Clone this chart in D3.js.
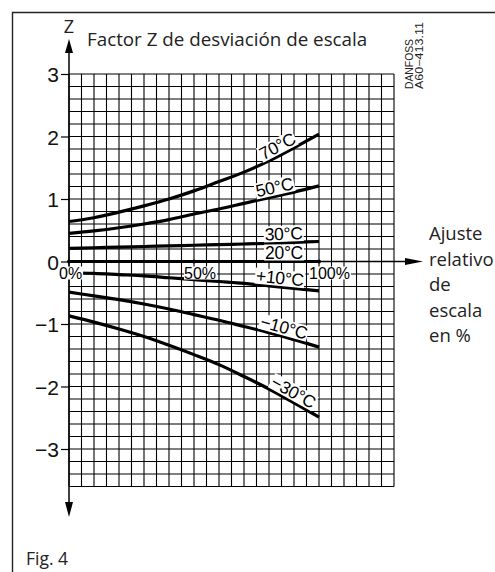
<!DOCTYPE html>
<html>
<head>
<meta charset="utf-8">
<script src="https://cdn.jsdelivr.net/npm/d3@7"></script>
<style>
    body { margin: 0; background: #fff; }
    svg { display: block; }
</style>
</head>
<body>
<script>
// Factor Z chart (scale deviation factor vs. relative scale setting)

// x values of the read points, % of scale setting
var settingPct = [0, 10, 20, 30, 40, 50, 60, 70, 80, 90, 100];

// Z for each temperature curve
var z70 = [0.64, 0.70, 0.79, 0.89, 1.00, 1.13, 1.28, 1.43, 1.61, 1.82, 2.04];
var z50 = [0.45, 0.49, 0.54, 0.60, 0.67, 0.76, 0.84, 0.93, 1.02, 1.11, 1.21];
var z30 = [0.21, 0.22, 0.23, 0.24, 0.25, 0.26, 0.27, 0.28, 0.29, 0.305, 0.32];
var z20 = [0, 0, 0, 0, 0, 0, 0, 0, 0, 0, 0];
var zP10 = [-0.18, -0.19, -0.21, -0.23, -0.26, -0.29, -0.32, -0.35, -0.39, -0.43, -0.47];
var zM10 = [-0.49, -0.55, -0.61, -0.68, -0.76, -0.85, -0.94, -1.04, -1.14, -1.25, -1.37];
var zM30 = [-0.87, -0.97, -1.08, -1.20, -1.34, -1.49, -1.65, -1.84, -2.04, -2.26, -2.49];

var curveNames = ["70°C", "50°C", "30°C", "20°C", "+10°C", "\u221210°C", "\u221230°C"];
var curveValues = [z70, z50, z30, z20, zP10, zM10, zM30];
// where along the curve (in %) each label sits
var labelAt = [85, 83, 86, 86, 84, 85, 88];

var yTicks = [3, 2, 1, 0, -1, -2, -3];
var yTickLabels = ["3", "2", "1", "0", "\u22121", "\u22122", "\u22123"];
var xTicks = [0, 50, 100];
var xTickLabels = ["0%", "50%", "100%"];
var rightLabel = ["Ajuste", "relativo", "de", "escala", "en %"];

var W = 495, H = 572;
var gridLeft = 69, gridRight = 394, gridTop = 74, gridBottom = 486.5;

var svg = d3.select("body").append("svg")
    .attr("width", W)
    .attr("height", H);

// scales: 0..130 % across the grid, Z 3 .. -3.6 down the grid
var x = d3.scaleLinear().domain([0, 130]).range([gridLeft, gridRight]);
var y = d3.scaleLinear().domain([3, -3.6]).range([gridTop, gridBottom]);

// frame round the figure
svg.append("path")
    .attr("d", "M12.5," + H + "V12.5H" + W)
    .attr("fill", "none")
    .attr("stroke", "#222")
    .attr("stroke-width", 1.4);

// grid, every 5 % and every 0.2 of Z
var grid = svg.append("g").attr("stroke", "#000").attr("stroke-width", 1.1);
grid.selectAll("line.v")
    .data(d3.range(0, 131, 5))
    .enter().append("line")
    .attr("class", "v")
    .attr("x1", function(d) { return x(d); })
    .attr("x2", function(d) { return x(d); })
    .attr("y1", y(3))
    .attr("y2", y(-3.6));
grid.selectAll("line.h")
    .data(d3.range(0, 34).map(function(i) { return +(3 - i * 0.2).toFixed(1); }))
    .enter().append("line")
    .attr("class", "h")
    .attr("x1", x(0))
    .attr("x2", x(130))
    .attr("y1", function(d) { return y(d); })
    .attr("y2", function(d) { return y(d); });

// Z axis with arrows both ends
svg.append("line")
    .attr("x1", x(0)).attr("x2", x(0))
    .attr("y1", 52).attr("y2", 503)
    .attr("stroke", "#000").attr("stroke-width", 1.5);
svg.append("path")
    .attr("d", "M" + x(0) + ",39l-4,14h8z");
svg.append("path")
    .attr("d", "M" + x(0) + ",517l-4,-15h8z");

// x axis out to the arrow
svg.append("line")
    .attr("x1", x(0)).attr("x2", 406)
    .attr("y1", y(0)).attr("y2", y(0))
    .attr("stroke", "#000").attr("stroke-width", 1.6);
svg.append("path")
    .attr("d", "M423," + y(0) + "l-18,-3.5v7z");

// y ticks and labels
var yAxis = d3.axisLeft(y)
    .tickValues(yTicks)
    .tickSize(8)
    .tickFormat(function(d, i) { return yTickLabels[i]; });
var yg = svg.append("g")
    .attr("transform", "translate(" + x(0) + ",0)")
    .call(yAxis);
yg.select(".domain").remove();
yg.selectAll(".tick line").attr("stroke", "#000").attr("stroke-width", 1.2);
yg.selectAll(".tick text")
    .attr("x", -10)
    .attr("dy", "0.36em")
    .attr("fill", "#111")
    .style("font-family", "'Liberation Sans', Arial, sans-serif")
    .style("font-size", "21px");

// temperature curves
var line = d3.line()
    .x(function(d) { return x(d[0]); })
    .y(function(d) { return y(d[1]); })
    .curve(d3.curveMonotoneX);

svg.append("g").selectAll("path")
    .data(curveValues)
    .enter().append("path")
    .attr("d", function(vals) {
        return line(settingPct.map(function(p, i) { return [p, vals[i]]; }));
    })
    .attr("fill", "none")
    .attr("stroke", "#000")
    .attr("stroke-width", 3.2);

// curve labels with white boxes behind, turned along the curve
function zAt(vals, p) {
    return d3.scaleLinear().domain(settingPct).range(vals)(p);
}
var labels = svg.append("g").selectAll("g")
    .data(curveNames)
    .enter().append("g")
    .attr("transform", function(d, i) {
        var vals = curveValues[i], p = labelAt[i];
        var x0 = x(p - 5), y0 = y(zAt(vals, p - 5));
        var x1 = x(p + 5), y1 = y(zAt(vals, p + 5));
        var ang = Math.atan2(y1 - y0, x1 - x0) * 180 / Math.PI;
        return "translate(" + x(p) + "," + y(zAt(vals, p)) + ") rotate(" + ang + ")";
    });
labels.append("text")
    .attr("y", -3)
    .attr("text-anchor", "middle")
    .style("font-family", "'Liberation Sans', Arial, sans-serif")
    .style("font-size", "17.5px")
    .style("letter-spacing", "-0.3px")
    .text(function(d) { return d; });
labels.each(function() {
    var g = d3.select(this);
    var b = g.select("text").node().getBBox();
    g.insert("rect", "text")
        .attr("x", b.x - 1).attr("y", b.y + 2)
        .attr("width", b.width + 2).attr("height", b.height - 4)
        .attr("fill", "#fff");
});

// x tick dots and % labels
svg.selectAll("circle.xt")
    .data(xTicks)
    .enter().append("circle")
    .attr("class", "xt")
    .attr("cx", function(d) { return x(d); })
    .attr("cy", y(0))
    .attr("r", 2);
var xl = svg.selectAll("g.xl")
    .data(xTicks)
    .enter().append("g")
    .attr("class", "xl")
    .attr("transform", function(d) { return "translate(" + (x(d) - 10) + "," + (y(0) + 17) + ")"; });
xl.append("text")
    .style("font-family", "'Liberation Sans', Arial, sans-serif")
    .style("font-size", "16px")
    .text(function(d, i) { return xTickLabels[i]; });
xl.each(function() {
    var g = d3.select(this);
    var b = g.select("text").node().getBBox();
    g.insert("rect", "text")
        .attr("x", b.x).attr("y", b.y + 2)
        .attr("width", b.width + 1).attr("height", b.height - 4)
        .attr("fill", "#fff");
});

// titles
var humanist = "'Open Sans', 'Noto Sans', sans-serif";
svg.append("text")
    .attr("x", x(0)).attr("y", 33)
    .attr("text-anchor", "middle")
    .style("font-family", humanist)
    .style("font-size", "18px")
    .attr("fill", "#222")
    .text("Z");
svg.append("text")
    .attr("x", 87).attr("y", 46)
    .style("font-family", humanist)
    .style("font-size", "18.8px")
    .attr("fill", "#222")
    .text("Factor Z de desviación de escala");

svg.append("g")
    .selectAll("text")
    .data(rightLabel)
    .enter().append("text")
    .attr("x", 429)
    .attr("y", function(d, i) { return 240 + i * 25.5; })
    .style("font-family", humanist)
    .style("font-size", "18.5px")
    .attr("fill", "#222")
    .text(function(d) { return d; });

svg.append("text")
    .attr("x", 26).attr("y", 565)
    .style("font-family", humanist)
    .style("font-size", "17.5px")
    .attr("fill", "#222")
    .text("Fig. 4");

// drawing number, turned on its side
var code = svg.append("g")
    .attr("transform", "translate(0,89) rotate(-90)")
    .style("font-family", "'Liberation Sans', Arial, sans-serif")
    .style("font-size", "10.5px")
    .attr("fill", "#222");
code.append("text").attr("x", 0).attr("y", 413)
    .attr("textLength", 50).attr("lengthAdjust", "spacingAndGlyphs")
    .text("DANFOSS");
code.append("text").attr("x", 0).attr("y", 423)
    .attr("textLength", 67).attr("lengthAdjust", "spacingAndGlyphs")
    .text("A60\u2212413.11");
</script>
</body>
</html>
